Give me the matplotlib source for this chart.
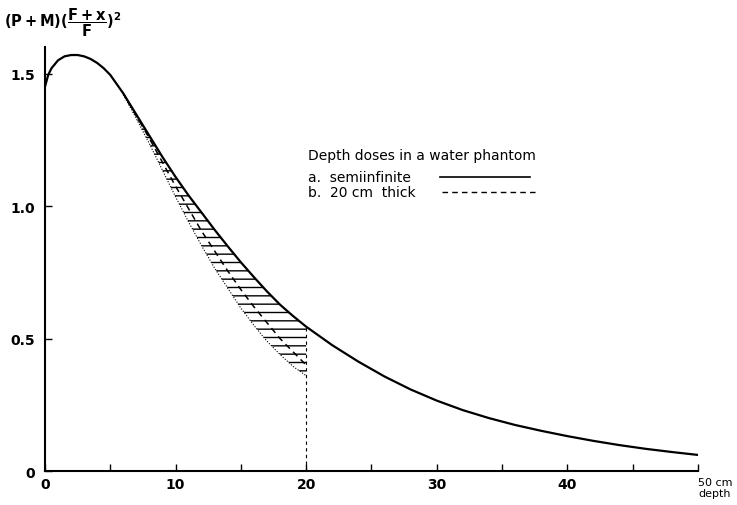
import numpy as np
import matplotlib
matplotlib.use('Agg')
import matplotlib.pyplot as plt
from matplotlib.ticker import MultipleLocator

# a. semiinfinite phantom (solid curve)
depth_a = [0, 0.25, 0.5, 1, 1.5, 2, 2.5, 3, 3.5, 4, 4.5, 5, 5.5, 6, 7, 8,
           9, 10, 11, 12, 13, 14, 15, 16, 17, 18, 19, 20, 22, 24, 26, 28,
           30, 32, 34, 36, 38, 40, 42, 44, 46, 48, 50]
dose_a = [1.45, 1.495, 1.52, 1.55, 1.565, 1.57, 1.57, 1.565, 1.555, 1.54,
          1.52, 1.495, 1.46, 1.425, 1.345, 1.265, 1.185, 1.11, 1.04, 0.975,
          0.91, 0.848, 0.788, 0.732, 0.678, 0.628, 0.585, 0.545, 0.475,
          0.413, 0.357, 0.308, 0.266, 0.23, 0.2, 0.174, 0.152, 0.132,
          0.114, 0.098, 0.084, 0.072, 0.061]

# b. 20 cm thick phantom (dashed curve, leaves curve a near 6 cm)
depth_b = [6, 7, 8, 9, 10, 11, 12, 13, 14, 15, 16, 17, 18, 19, 20]
dose_b = [1.425, 1.34, 1.255, 1.165, 1.075, 0.99, 0.905, 0.83, 0.755,
          0.685, 0.62, 0.56, 0.5, 0.45, 0.4]

# outer (dotted) edge of the hatched band
depth_c = [6, 7, 8, 9, 10, 11, 12, 13, 14, 15, 16, 17, 18, 19, 20]
dose_c = [1.42, 1.33, 1.235, 1.135, 1.035, 0.94, 0.85, 0.765, 0.69, 0.615,
          0.55, 0.49, 0.44, 0.395, 0.36]

x_ticks = [0, 10, 20, 30, 40, 50]
x_labels = ['0', '10', '20', '30', '40', '50 cm\ndepth']
y_ticks = [0, 0.5, 1.0, 1.5]
y_labels = ['0', '0.5', '1.0', '1.5']

fig = plt.figure(figsize=(7.37, 5.06), dpi=100)
ax = fig.add_axes([0.061, 0.067, 0.886, 0.838])

ax.plot(depth_a, dose_a, color='black', lw=1.6)
ax.plot(depth_b, dose_b, color='black', lw=1.1, ls=(0, (4, 3)))
ax.plot(depth_c, dose_c, color='black', lw=0.8, ls=(0, (1, 1.5)))

# hatched band between curve a and the dotted edge up to 20 cm
upper = np.interp(depth_c, depth_a, dose_a)
ax.fill_between(depth_c, dose_c, upper, facecolor='none', edgecolor='black',
                hatch='--', linewidth=0)
ax.vlines(20, 0, np.interp(20, depth_a, dose_a), colors='black',
          linestyles=(0, (3, 3)), lw=0.8)

ax.set_xlim(0, 50)
ax.set_ylim(0, 1.6)
ax.spines['top'].set_visible(False)
ax.spines['right'].set_visible(False)
ax.spines['left'].set_linewidth(1.5)
ax.spines['bottom'].set_linewidth(1.5)

ax.set_xticks(x_ticks)
ax.set_xticklabels(x_labels, fontsize=10, fontweight='bold')
ax.xaxis.set_minor_locator(MultipleLocator(5))
ax.set_yticks(y_ticks)
ax.set_yticklabels(y_labels, fontsize=10, fontweight='bold')
ax.tick_params(axis='both', which='both', direction='in', length=5, width=1)
ax.tick_params(axis='y', pad=7)
ax.tick_params(axis='x', pad=4)
for lab in ax.get_xticklabels():
    if 'depth' in lab.get_text():
        lab.set_horizontalalignment('left')
        lab.set_fontsize(8)
        lab.set_fontweight('normal')

fig.text(0.005, 0.955, r'$\mathbf{(P+M)(\dfrac{F+x}{F})^2}$', fontsize=10.5,
         va='center', ha='left')

# legend drawn by hand: title, labels on the left, line samples on the right
ax.text(0.403, 0.745, 'Depth doses in a water phantom', transform=ax.transAxes,
        fontsize=10, va='center')
ax.text(0.403, 0.693, 'a.  semiinfinite', transform=ax.transAxes,
        fontsize=10, va='center')
ax.text(0.403, 0.658, 'b.  20 cm  thick', transform=ax.transAxes,
        fontsize=10, va='center')
ax.plot([0.605, 0.743], [0.693, 0.693], transform=ax.transAxes,
        color='black', lw=1.2)
ax.plot([0.608, 0.753], [0.658, 0.658], transform=ax.transAxes,
        color='black', lw=1.0, ls=(0, (4, 3)))

fig.savefig('out.png', dpi=100)
